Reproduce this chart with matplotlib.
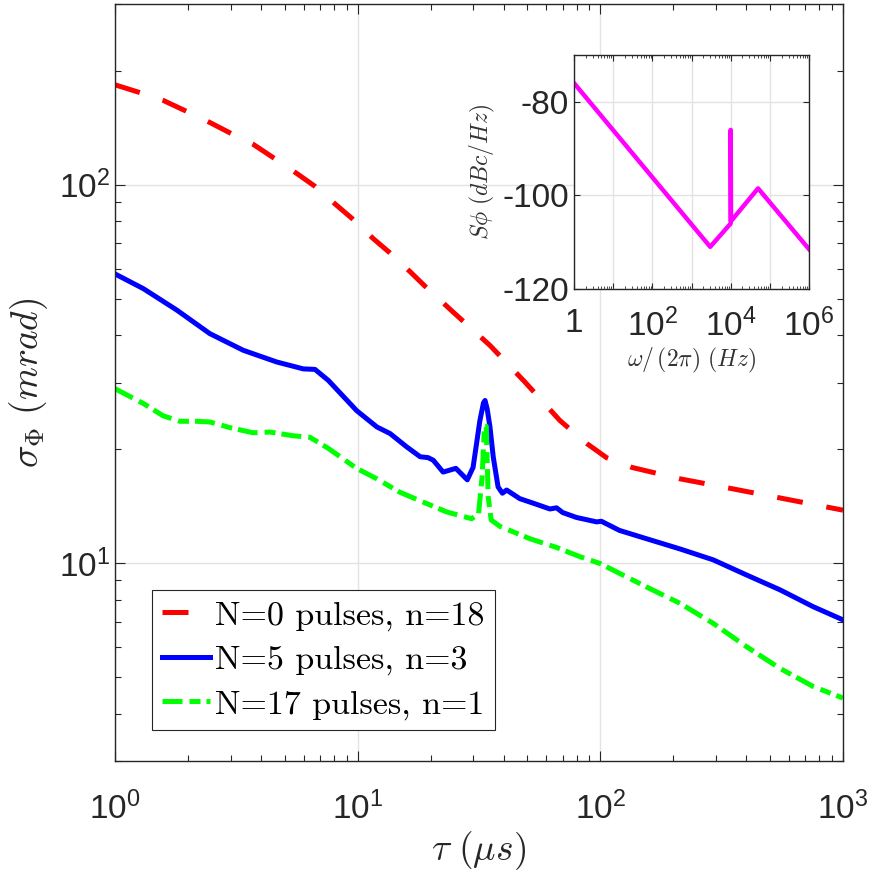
import matplotlib
matplotlib.use('Agg')
import matplotlib.pyplot as plt
import matplotlib.ticker as mticker
import numpy as np

plt.rcParams['font.family'] = ['Liberation Sans', 'DejaVu Sans']
plt.rcParams['mathtext.fontset'] = 'cm'
plt.rcParams['axes.unicode_minus'] = False

# tau (us) vs sigma_Phi (mrad)
tau_n0 = [1, 1.27, 1.58, 1.94, 2.46, 2.98, 3.7, 4.48, 5.62, 6.67, 8.06, 9.57, 11.6,
          13.6, 16.4, 18.9, 24.8, 35.1, 48.9, 68.2, 88, 106, 135, 213, 336, 540, 1000]
sig_n0 = [183.6, 175, 167, 157, 146, 137, 128, 118, 107, 99, 89, 81, 72,
          66, 59, 54, 46, 37.6, 30.1, 23.8, 20.7, 19.0, 17.9, 16.7, 15.8, 14.9, 13.8]

tau_n5 = [1, 1.31, 1.80, 2.46, 3.38, 4.64, 5.97, 6.67, 7.57, 9.9, 12.0, 13.6, 15.9,
          18.1, 19.5, 20.5, 22.5, 25.4, 28.3, 29.9, 31.9, 33.0, 33.5, 34.2, 35.1,
          36.2, 37.9, 39.5, 41.1, 46.6, 52.9, 62, 66, 70, 79.8, 96.6, 101, 120,
          155, 213, 292, 401, 550, 754, 1000]
sig_n5 = [58.1, 53.1, 46.6, 40.4, 36.5, 34.0, 32.6, 32.5, 30.4, 25.3, 22.9, 22.0, 20.3,
          19.1, 19.0, 18.7, 17.4, 17.8, 16.6, 17.9, 23.8, 26.5, 26.9, 25.5, 22.9,
          19.1, 15.9, 15.3, 15.6, 14.8, 14.4, 13.9, 14.0, 13.6, 13.2, 12.85, 12.9, 12.2,
          11.6, 10.9, 10.2, 9.3, 8.5, 7.67, 7.08]

tau_n17 = [1, 1.31, 1.58, 1.85, 2.17, 2.46, 2.98, 3.71, 4.35, 5.43, 6.36, 7.57, 9.9,
           12.0, 14.9, 18.6, 23.3, 29.5, 31.5, 32.6, 33.3, 33.9, 34.5, 35.5, 38.6,
           51.3, 66, 82.4, 99.6, 155, 213, 292, 401, 550, 754, 1000]
sig_n17 = [28.9, 26.4, 24.5, 23.7, 23.7, 23.6, 22.8, 22.1, 22.2, 21.7, 21.5, 20.1, 17.8,
           16.7, 15.4, 14.5, 13.65, 13.1, 13.5, 17.0, 23.0, 23.0, 15.0, 13.0, 12.5,
           11.6, 11.0, 10.4, 9.98, 8.65, 7.83, 6.93, 6.01, 5.27, 4.72, 4.40]

labels = ['N=0 pulses, n=18', 'N=5 pulses, n=3', 'N=17 pulses, n=1']

# inset: phase noise spectrum
freq = [1, 3000, 1e4, 1e4, 1.02e4, 5e4, 1e6]
s_phi = [-76, -111, -106, -86, -105.5, -98.5, -111.5]

fig = plt.figure(figsize=(8.75, 8.73), dpi=100)
ax = fig.add_axes([0.1314, 0.1283, 0.832, 0.867])

lw = 3.6
ax.plot(tau_n0, sig_n0, color='#ff0000', lw=lw, dashes=(5.2, 4.8), label=labels[0])
ax.plot(tau_n5, sig_n5, color='#0000ff', lw=lw, label=labels[1])
ax.plot(tau_n17, sig_n17, color='#00ff00', lw=lw, dashes=(4, 1.4, 2.2, 1.2), label=labels[2])

ax.set_xscale('log')
ax.set_yscale('log')
ax.set_xlim(1, 1000)
ax.set_ylim(3, 300)
ax.grid(True, which='major', color='#e3e3e3', lw=1)
ax.set_axisbelow(True)
ax.tick_params(which='both', direction='in', top=True, right=True, labelsize=24, colors='#262626')
ax.tick_params(which='major', length=7, width=0.8)
ax.tick_params(which='minor', length=4, width=0.8)
ax.tick_params(axis='x', pad=22)
ax.yaxis.set_minor_formatter(mticker.NullFormatter())
for sp in ax.spines.values():
    sp.set_color('#262626')
    sp.set_linewidth(1)

ax.set_xlabel(r'$\tau\ (\mu s)$', fontsize=27, color='#262626', labelpad=2)
ax.set_ylabel(r'$\sigma_\Phi\ (mrad)$', fontsize=27, color='#262626', labelpad=6)

leg = ax.legend(loc='lower left', bbox_to_anchor=(0.051, 0.041), frameon=True,
                fancybox=False, edgecolor='#262626', framealpha=1,
                prop={'family': 'cmr10', 'size': 24.5}, handlelength=1.4,
                handletextpad=0.15, borderpad=0.3, labelspacing=0.42, borderaxespad=0)
leg.get_frame().set_linewidth(0.8)

# inset
ins = fig.add_axes([0.656, 0.669, 0.2686, 0.268])
ins.plot(freq, s_phi, color='#ff00ff', lw=3.2)
ins.set_xscale('log')
ins.set_xlim(1, 1e6)
ins.set_ylim(-120, -70)
ins.set_yticks([-120, -100, -80])
ins.xaxis.set_major_locator(mticker.LogLocator(base=10, numticks=10))
ins.xaxis.set_minor_locator(mticker.LogLocator(base=10, subs=np.arange(2, 10), numticks=10))
ins.xaxis.set_minor_formatter(mticker.NullFormatter())

def inset_fmt(v, pos):
    e = int(round(np.log10(v)))
    if e % 2:
        return ''
    if e == 0:
        return '1'
    return r'$\mathdefault{10^{%d}}$' % e

ins.xaxis.set_major_formatter(mticker.FuncFormatter(inset_fmt))
ins.grid(True, which='major', color='#e3e3e3', lw=1)
ins.set_axisbelow(True)
ins.tick_params(which='both', direction='in', top=True, right=True, labelsize=24, colors='#262626')
ins.tick_params(which='major', length=4, width=0.8)
ins.tick_params(which='minor', length=2, width=0.6)
ins.tick_params(axis='x', pad=14)
for sp in ins.spines.values():
    sp.set_color('#262626')
    sp.set_linewidth(1)
ins.set_xlabel(r'$\omega/\,(2\pi)\ (Hz)$', fontsize=17, color='#333333', labelpad=2)
ins.set_ylabel(r'$S\phi\ (dBc/Hz)$', fontsize=17, color='#333333', labelpad=4)

fig.savefig('out.png', dpi=100)
